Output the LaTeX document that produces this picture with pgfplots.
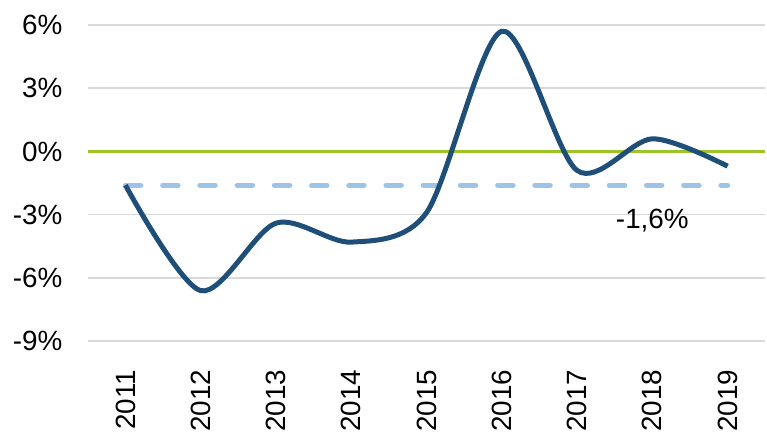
\documentclass[border=0pt]{standalone}
\usepackage{pgfplots}
\pgfplotsset{compat=1.18}
\usepackage{fontspec}
\setmainfont{Liberation Sans}

\definecolor{lineblue}{RGB}{31,78,121}
\definecolor{avgblue}{RGB}{157,195,230}
\definecolor{zerogreen}{RGB}{154,196,40}
\definecolor{gridgray}{RGB}{217,217,217}

\begin{document}
\begin{tikzpicture}
\begin{axis}[
  anchor=south west,
  scale only axis, width=679bp, height=317bp,
  xmin=-0.5, xmax=8.5, ymin=-9, ymax=6,
  axis line style={draw=none},
  xtick={0,...,8},
  xticklabels={2011,2012,2013,2014,2015,2016,2017,2018,2019},
  ytick={-9,-6,-3,0,3,6},
  yticklabels={-9\%,-6\%,-3\%,0\%,3\%,6\%},
  major tick length=0pt,
  ymajorgrids, grid style={gridgray, line width=1.5bp},
  tick label style={font=\fontsize{28}{32}\selectfont, text=black},
  xticklabel style={rotate=90, anchor=east},
  xticklabel shift=25bp,
  xtick style={draw=none}, ytick style={draw=none},
  yticklabel style={xshift=-22bp},
  clip=false,
]
% zero line
\addplot[zerogreen, line width=3.5bp] coordinates {(-0.5,0) (8.5,0)};
% average
\addplot[avgblue, line width=5bp, line cap=round, dash pattern=on 15.5bp off 21.8bp]
  coordinates {(0,-1.6) (8,-1.6)};
% annual change
\addplot[lineblue, line width=5bp, smooth, tension=0.5] coordinates {
  (0,-1.6) (1,-6.6) (2,-3.4) (3,-4.3) (4,-2.9) (5,5.7) (6,-0.9) (7,0.6) (8,-0.7)};
\node[font=\fontsize{28}{32}\selectfont, anchor=center] at (axis cs:7.0,-3.3) {-1,6\%};
\end{axis}
\useasboundingbox (-88bp,-82bp) rectangle (679bp,342bp);
\end{tikzpicture}
\end{document}
